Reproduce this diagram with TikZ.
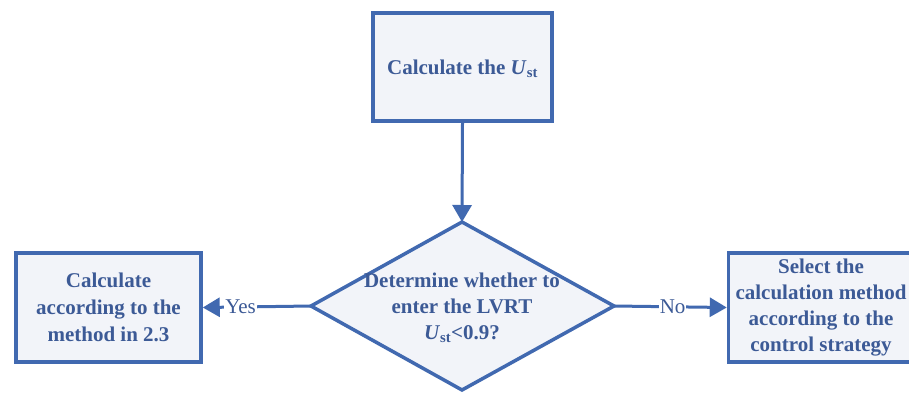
\documentclass[tikz,border=0pt]{standalone}
\usepackage{fontspec}
\setmainfont{Liberation Serif}[BoldFont={Liberation Serif Bold},ItalicFont={Liberation Serif Italic},BoldItalicFont={Liberation Serif Bold Italic}]
\usetikzlibrary{arrows.meta}
\definecolor{bord}{HTML}{4169B0}
\definecolor{txt}{HTML}{3C5A96}
\definecolor{fillc}{HTML}{F2F4F9}
\begin{document}
\begin{tikzpicture}[x=1pt,y=-1pt,
  boxst/.style={draw=bord, line width=3.5pt, fill=fillc, text=txt,
    font=\fontsize{21}{26}\selectfont\bfseries, align=center, inner sep=0pt},
  diamst/.style={draw=bord, line width=3.5pt, fill=fillc, line join=miter},
  dtext/.style={text=txt, font=\fontsize{21}{26}\selectfont\bfseries, align=center, inner sep=0pt},
  conn/.style={draw=bord, line width=3pt, -{Triangle[length=17pt,width=19pt]}},
  lab/.style={text=txt, font=\fontsize{21}{24}\selectfont, fill=white, inner sep=1pt}]
\useasboundingbox (0,0) rectangle (909,392);
\clip (0,0) rectangle (909,392);
\fill[white] (0,0) rectangle (909,392);
\node[boxst, minimum width=179pt, minimum height=108pt, text depth=0pt] (top) at (462.5,67) {Calculate the \textit{U}\textsubscript{st}};
\coordinate (dT) at (462,222);
\coordinate (dR) at (614,306);
\coordinate (dB) at (462,390);
\coordinate (dL) at (311,306);
\draw[diamst] (dT) -- (dR) -- (dB) -- (dL) -- cycle;
\node[dtext] (dtx) at (462,308) {Determine whether to\\enter the LVRT\\\textit{U}\textsubscript{st}<0.9?};
\node[boxst, minimum width=185pt, minimum height=109pt, font=\fontsize{21}{27}\selectfont\bfseries] (left) at (108.5,307.5) {Calculate\\according to the\\method in 2.3};
\node[boxst, minimum width=185pt, minimum height=109pt] (right) at (821,307.5) {Select the\\calculation method\\according to the\\control strategy};
\draw[conn] (top.south) -- (dT);
\draw[conn] (dL) -- node[lab, pos=0.65] {Yes} (left.east);
\draw[conn] (dR) -- node[lab, pos=0.52] {No} (right.west);
\end{tikzpicture}
\end{document}
